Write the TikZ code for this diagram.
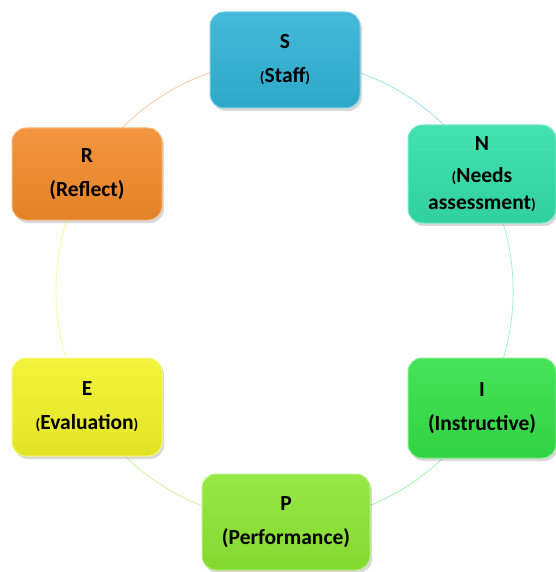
\documentclass[tikz,border=0pt]{standalone}
\usepackage{fontspec}
\setmainfont{Carlito}
\usetikzlibrary{shadows,backgrounds}
\definecolor{cycblue}{RGB}{48,178,214}
\definecolor{cycteal}{RGB}{50,222,168}
\definecolor{cycgreen}{RGB}{50,224,70}
\definecolor{cyclime}{RGB}{140,230,50}
\definecolor{cycyellow}{RGB}{242,242,40}
\definecolor{cycorange}{RGB}{242,138,42}
\newcommand\sparl{{\fontsize{15}{15}\selectfont(}}
\newcommand\sparr{{\fontsize{15}{15}\selectfont)}}

\begin{document}
\begin{tikzpicture}[x=1pt,y=-1pt,
  cyclebox/.style={rounded corners=14pt,minimum width=150pt,minimum height=96pt,
    align=center,font=\fontsize{21.5}{27}\selectfont\bfseries,
    top color=#1!90!white,bottom color=#1!94!black,draw=#1!60!white,line width=1pt,
    drop shadow={opacity=0.3,shadow xshift=2pt,shadow yshift=-3pt}},
  cyclearc/.style={#1!45!white,line width=0.8pt}
]
  \useasboundingbox (0,0) rectangle (555,572);

  % Steps round the cycle
  \node[cyclebox=cycblue] (S) at (285,60) {S\\[7pt]\sparl Staff\sparr};
  \node[cyclebox=cycteal,minimum width=148pt,minimum height=98pt] (N) at (482,174)
    {N\\[5pt]\sparl Needs\\assessment\sparr};
  \node[cyclebox=cycgreen,minimum width=148pt,minimum height=100pt] (I) at (482,408)
    {I\\[7pt](Instructive)};
  \node[cyclebox=cyclime,minimum width=168pt] (P) at (286,522) {P\\[7pt](Performance)};
  \node[cyclebox=cycyellow,minimum height=98pt] (E) at (87,407) {E\\[7pt]\sparl Evaluation\sparr};
  \node[cyclebox=cycorange,minimum height=92pt] (R) at (87,174) {R\\[7pt](Reflect)};

  % Circle behind the boxes
  \begin{scope}[on background layer]
    \draw[cyclearc=cycblue] (S.center) to[bend left=30,looseness=0.91] (N.center);
    \draw[cyclearc=cycteal] (N.center) to[bend left=30,looseness=0.91] (I.center);
    \draw[cyclearc=cycgreen] (I.center) to[bend left=30,looseness=0.91] (P.center);
    \draw[cyclearc=cyclime] (P.center) to[bend left=30,looseness=0.91] (E.center);
    \draw[cyclearc=cycyellow] (E.center) to[bend left=30,looseness=0.91] (R.center);
    \draw[cyclearc=cycorange] (R.center) to[bend left=30,looseness=0.91] (S.center);
  \end{scope}
\end{tikzpicture}
\end{document}
